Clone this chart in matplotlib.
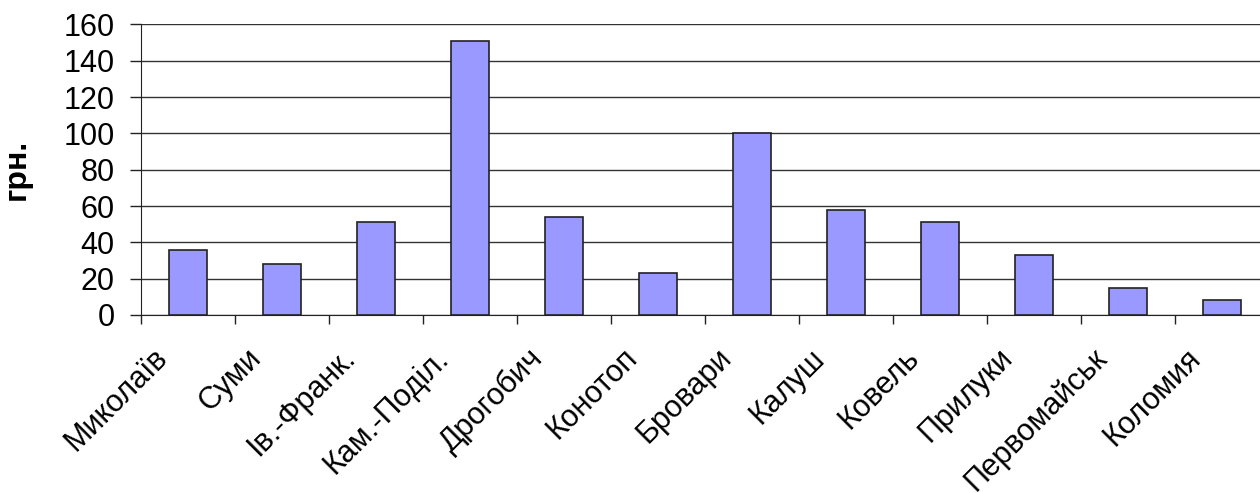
import matplotlib
matplotlib.use("Agg")
import matplotlib.pyplot as plt
import matplotlib.transforms as mtransforms
import numpy as np

cities = ["Миколаїв", "Суми", "Ів.-Франк.", "Кам.-Поділ.", "Дрогобич", "Конотоп",
          "Бровари", "Калуш", "Ковель", "Прилуки", "Первомайськ", "Коломия"]
values = [36, 28, 51, 151, 54, 23, 100, 58, 51, 33, 15, 8]
y_ticks = [0, 20, 40, 60, 80, 100, 120, 140, 160]

plt.rcParams["font.family"] = ["Liberation Sans", "DejaVu Sans"]

W, H = 1260, 493
fig = plt.figure(figsize=(W / 100, H / 100), dpi=100)
# plot area runs slightly past the right edge of the figure
ax = fig.add_axes([141 / W, (H - 315) / H, 1128 / W, (315 - 24.5) / H])

x = np.arange(len(cities))
ax.bar(x, values, width=0.41, color="#9999FF", edgecolor="#222222", linewidth=1.2, zorder=3)

ax.set_xlim(-0.5, len(cities) - 0.5)
ax.set_ylim(0, 160)
ax.set_yticks(y_ticks)
ax.set_yticklabels([str(v) for v in y_ticks], fontsize=22)
ax.yaxis.grid(True, color="#333333", linewidth=1.0, zorder=0)
ax.tick_params(axis="y", length=8, width=1, pad=11, color="#222222")

# category boundaries carry the tick marks
ax.set_xticks(np.arange(len(cities) + 1) - 0.5)
ax.set_xticklabels([])
ax.tick_params(axis="x", length=6.5, width=1, color="#222222")

# rotated category names, right end just left of each category centre
label_tf = mtransforms.offset_copy(ax.get_xaxis_transform(), fig=fig, x=-36, y=-28, units="dots")
for xi, name in zip(x, cities):
    ax.text(xi, 0, name, transform=label_tf, rotation=45, rotation_mode="anchor",
            ha="right", va="top", fontsize=22, clip_on=False)

for side in ["top", "right"]:
    ax.spines[side].set_visible(False)
ax.spines["left"].set_color("#222222")
ax.spines["bottom"].set_color("#222222")

ax.set_ylabel("грн.", fontsize=23, fontweight="bold", va="center")
ax.yaxis.set_label_coords((17 - 141) / 1128, 0.5)

fig.savefig("out.png", dpi=100)
